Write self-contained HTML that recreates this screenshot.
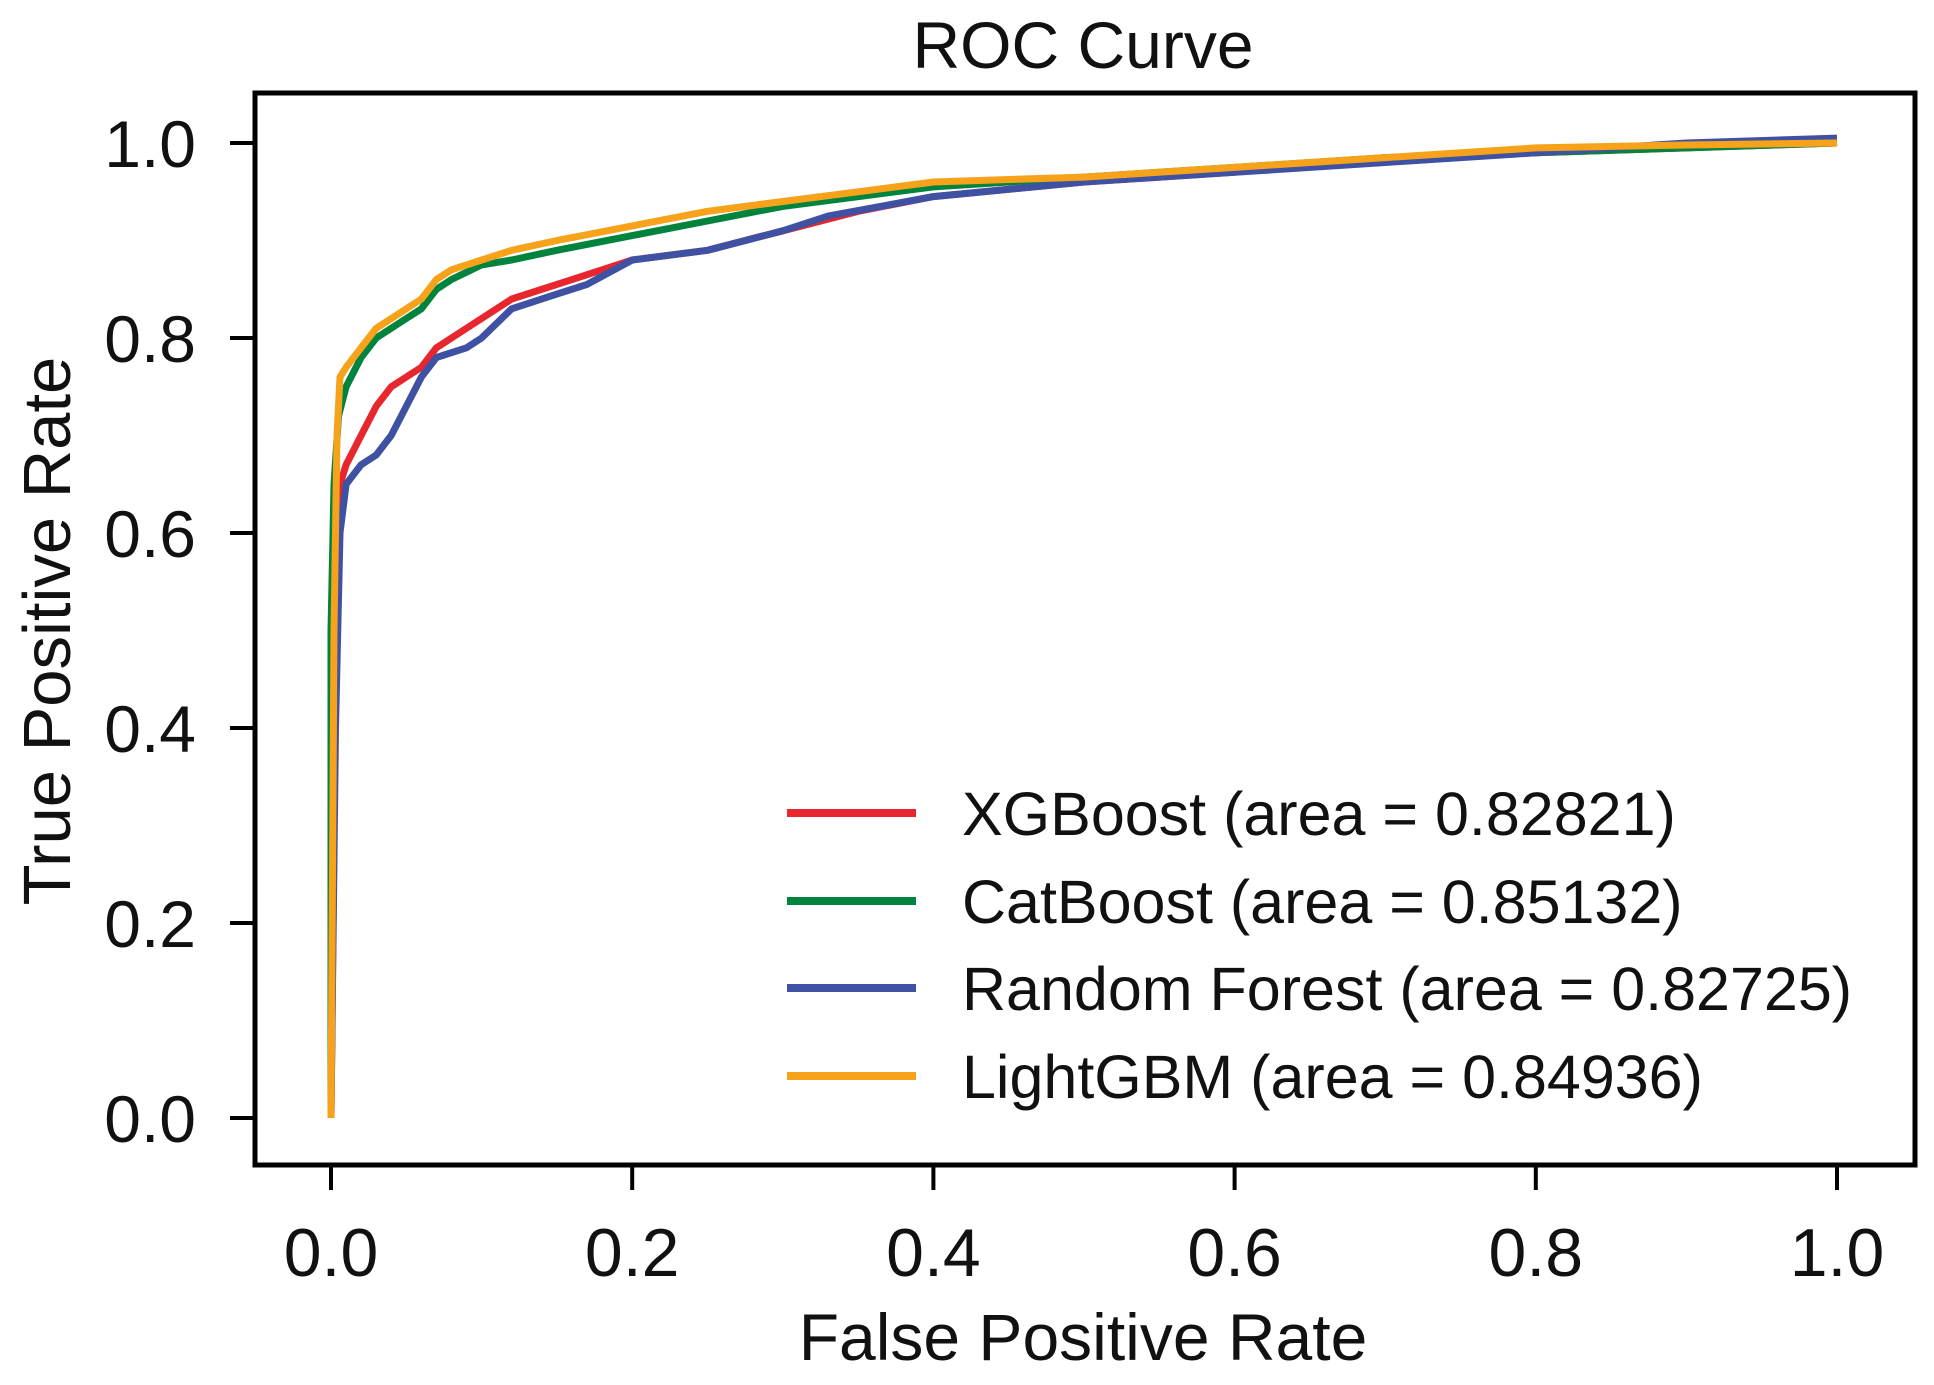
<!DOCTYPE html>
<html><head><meta charset="utf-8"><style>
body{margin:0;background:#fff;}
svg text{font-family:"Liberation Sans",sans-serif;fill:#111;}
</style></head><body>
<svg id="chart" width="1934" height="1380" viewBox="0 0 1934 1380">
<text x="1083" y="68" font-size="66" text-anchor="middle">ROC Curve</text>
<text x="1083" y="1360" font-size="66" text-anchor="middle">False Positive Rate</text>
<text transform="translate(70,631) rotate(-90)" font-size="67" text-anchor="middle">True Positive Rate</text>
<g id="ticks"></g>
<g id="series"></g>
<rect x="255" y="93" width="1660" height="1072" fill="none" stroke="#000" stroke-width="5"/>
<g id="legend"></g>
</svg>
<script>
const xTicks=[0,0.2,0.4,0.6,0.8,1.0];
const yTicks=[0,0.2,0.4,0.6,0.8,1.0];
const seriesNames=["XGBoost","CatBoost","Random Forest","LightGBM"];
const seriesAuc=["0.82821","0.85132","0.82725","0.84936"];
const xgbFpr=[0,0.002,0.004,0.006,0.01,0.02,0.03,0.04,0.05,0.06,0.07,0.08,0.1,0.12,0.15,0.18,0.2,0.25,0.3,0.35,0.4,0.5,0.6,0.7,0.8,0.9,1];
const xgbTpr=[0,0.3,0.6,0.65,0.67,0.70,0.73,0.75,0.76,0.77,0.79,0.80,0.82,0.84,0.855,0.87,0.88,0.89,0.91,0.93,0.945,0.96,0.97,0.985,0.99,0.995,1];
const catFpr=[0,0,0.002,0.005,0.01,0.02,0.03,0.05,0.06,0.07,0.08,0.1,0.12,0.15,0.2,0.25,0.3,0.35,0.4,0.5,0.6,0.7,0.8,0.9,1];
const catTpr=[0,0.5,0.65,0.72,0.75,0.78,0.80,0.82,0.83,0.85,0.86,0.875,0.88,0.89,0.905,0.92,0.935,0.945,0.955,0.965,0.975,0.985,0.99,0.995,1];
const rfFpr=[0,0.003,0.006,0.01,0.02,0.03,0.04,0.05,0.06,0.07,0.09,0.1,0.12,0.15,0.17,0.2,0.25,0.3,0.33,0.4,0.5,0.6,0.7,0.8,0.9,1];
const rfTpr=[0,0.4,0.6,0.65,0.67,0.68,0.70,0.73,0.76,0.78,0.79,0.80,0.83,0.845,0.855,0.88,0.89,0.91,0.925,0.945,0.96,0.97,0.98,0.99,1.0,1.005];
const lgbFpr=[0,0.002,0.004,0.006,0.01,0.02,0.03,0.05,0.06,0.07,0.08,0.1,0.12,0.15,0.2,0.25,0.3,0.35,0.4,0.5,0.6,0.7,0.8,0.9,1];
const lgbTpr=[0,0.5,0.7,0.76,0.77,0.79,0.81,0.83,0.84,0.86,0.87,0.88,0.89,0.90,0.915,0.93,0.94,0.95,0.96,0.965,0.975,0.985,0.995,0.998,1];
const colors=["#e8262e","#00843d","#3f51a3","#f7a21b"];
const NS="http://www.w3.org/2000/svg";
const X=v=>331+v*(1837-331);
const Y=v=>1118-v*(1118-143);
const tg=document.getElementById('ticks');
xTicks.forEach(t=>{
  const l=document.createElementNS(NS,'line');
  l.setAttribute('x1',X(t));l.setAttribute('x2',X(t));l.setAttribute('y1',1165);l.setAttribute('y2',1190);
  l.setAttribute('stroke','#000');l.setAttribute('stroke-width','4');
  
  
  tg.appendChild(l);
  const tx=document.createElementNS(NS,'text');
  tx.setAttribute('x',X(t));tx.setAttribute('y',1276);tx.setAttribute('font-size','68');tx.setAttribute('text-anchor','middle');
  tx.textContent=t.toFixed(1);
  
  
  tg.appendChild(tx);
});
yTicks.forEach(t=>{
  const l=document.createElementNS(NS,'line');
  l.setAttribute('x1',230);l.setAttribute('x2',255);l.setAttribute('y1',Y(t));l.setAttribute('y2',Y(t));
  l.setAttribute('stroke','#000');l.setAttribute('stroke-width','4');
  
  
  tg.appendChild(l);
  const tx=document.createElementNS(NS,'text');
  tx.setAttribute('x',196);tx.setAttribute('y',Y(t)+24);tx.setAttribute('font-size','66');tx.setAttribute('text-anchor','end');
  tx.textContent=t.toFixed(1);
  
  
  tg.appendChild(tx);
});
const data=[[xgbFpr,xgbTpr],[catFpr,catTpr],[rfFpr,rfTpr],[lgbFpr,lgbTpr]];
const sg=document.getElementById('series');
data.forEach((d,i)=>{
  const pts=d[0].map((f,k)=>X(f).toFixed(1)+','+Y(d[1][k]).toFixed(1)).join(' ');
  const p=document.createElementNS(NS,'polyline');
  p.setAttribute('points',pts);p.setAttribute('fill','none');p.setAttribute('stroke',colors[i]);
  p.setAttribute('stroke-width','7');p.setAttribute('stroke-linejoin','round');
  
  
  sg.appendChild(p);
});
const lg=document.getElementById('legend');
const rowsY=[813,901,988,1076];
seriesNames.forEach((n,i)=>{
  const g=document.createElementNS(NS,'g');
  
  
  const l=document.createElementNS(NS,'line');
  l.setAttribute('x1',787);l.setAttribute('x2',916);l.setAttribute('y1',rowsY[i]);l.setAttribute('y2',rowsY[i]);
  l.setAttribute('stroke',colors[i]);l.setAttribute('stroke-width','8');
  g.appendChild(l);
  const tx=document.createElementNS(NS,'text');
  tx.setAttribute('x',962);tx.setAttribute('y',rowsY[i]+22);tx.setAttribute('font-size','61');
  tx.textContent=n+' (area = '+seriesAuc[i]+')';
  g.appendChild(tx);
  lg.appendChild(g);
});
</script>
</body></html>
